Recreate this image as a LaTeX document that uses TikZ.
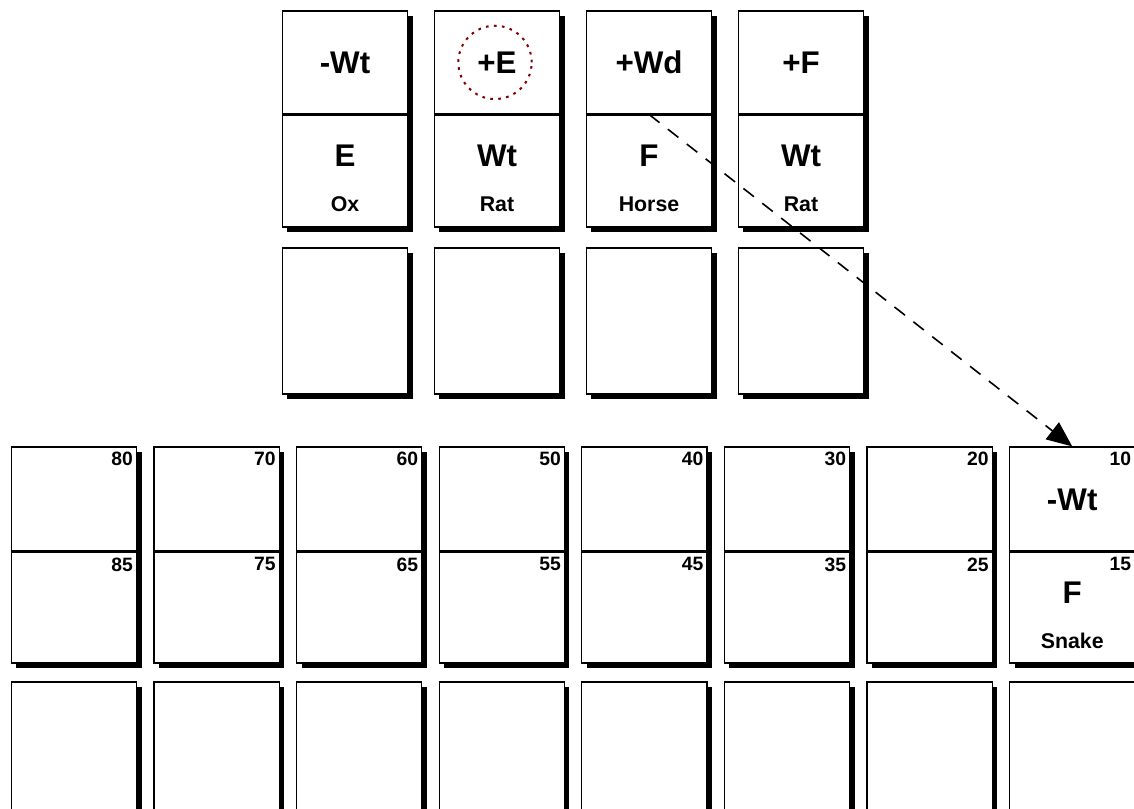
\documentclass[tikz,border=0pt]{standalone}
\usepackage{fontspec}
\setmainfont{Liberation Sans}
\usetikzlibrary{arrows.meta,positioning,calc,shadows}

\begin{document}
\begin{tikzpicture}[x=0.75pt, y=-0.75pt,
    card/.style={draw=black, line width=0.9pt, fill=white, minimum width=94pt, minimum height=162pt, inner sep=0pt,
      drop shadow={shadow xshift=3.75pt, shadow yshift=-3.75pt, opacity=1, fill=black}},
    slot/.style={card, minimum height=109.5pt},
    split/.style={line width=2.2pt},
    big/.style={font=\fontsize{23.5}{25}\selectfont\bfseries, inner sep=0pt},
    animal/.style={font=\fontsize{16}{18}\selectfont\bfseries, inner sep=0pt},
    num/.style={font=\fontsize{14.5}{16}\selectfont\bfseries, inner sep=0pt, anchor=north east},
    ring/.style={draw=red!50!black, line width=1.5pt, dash pattern=on 2pt off 4pt},
    move/.style={line width=1.2pt, dash pattern=on 10pt off 8pt, -{Triangle[length=19pt, width=16pt]}}]

    \useasboundingbox (0,0) rectangle (1134,809);

    % Upper row of pillars
    \foreach \hi/\lo/\who [count=\i] in {-Wt/E/Ox, +E/Wt/Rat, +Wd/F/Horse, +F/Wt/Rat} {
        \node[card] (t\i) at ({345+152*(\i-1)}, 119) {};
        \draw[split] ($(t\i.north west)+(0,104)$) -- ($(t\i.north east)+(0,104)$);
        \node[big] (t\i-hi) at ($(t\i.north)+(0,52)$) {\hi};
        \node[big] (t\i-lo) at ($(t\i.north)+(0,145)$) {\lo};
        \node[animal] (t\i-who) at ($(t\i.north)+(0,194)$) {\who};
        \node[slot] (s\i) at ({345+152*(\i-1)}, 321) {};
    }

    % Clash marker
    \draw[ring] ($(t2-hi)+(-2,0)$) circle[radius=27.5pt];

    % Lower row of periods
    \foreach \i in {1,...,8} {
        \node[card] (b\i) at ({74+142.6*(\i-1)}, 555) {};
        \draw[split] ($(b\i.north west)+(0,105)$) -- ($(b\i.north east)+(0,105)$);
        \pgfmathtruncatemacro\nhi{90-10*\i}
        \pgfmathtruncatemacro\nlo{95-10*\i}
        \node[num] (b\i-n) at ($(b\i.north east)+(-4,5)$) {\nhi};
        \node[num] (b\i-m) at ($(b\i.north east)+(-4,111)$) {\nlo};
        \node[slot] (c\i) at ({74+142.6*(\i-1)}, 755) {};
    }

    \node[big] (b8-hi) at ($(b8.north)+(0,53)$) {-Wt};
    \node[big] (b8-lo) at ($(b8.north)+(0,146)$) {F};
    \node[animal] (b8-who) at ($(b8.north)+(0,194)$) {Snake};

    % Move into the 10 period
    \coordinate (from) at ($(t3.north)+(0,104)$);
    \draw[move] (from) -- (b8.north);
\end{tikzpicture}
\end{document}
